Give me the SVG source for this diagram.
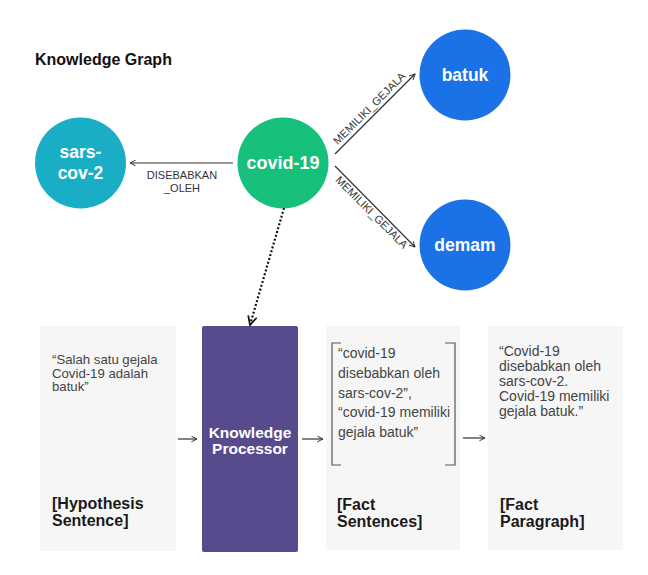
<svg xmlns="http://www.w3.org/2000/svg" width="648" height="575" viewBox="0 0 648 575">
<defs>
<style>
text{font-family:"Liberation Sans",Arial,sans-serif}
.node text{fill:#ffffff;font-weight:bold;font-size:17.5px;text-anchor:middle}
.elabel{fill:#333333;font-size:11px;text-anchor:middle}
.conn line,.conn path{stroke:#333333;stroke-width:1.2;fill:none}
.box{fill:#f6f6f6}
.body{fill:#444444;font-size:14px}
.tight{font-size:13.2px}
.cap{fill:#1a1a1a;font-size:16px;font-weight:bold}
.title{fill:#111111;font-size:16px;font-weight:bold}
</style>
<marker id="arr" viewBox="0 0 10 10" refX="9" refY="5" markerWidth="7" markerHeight="7" orient="auto" markerUnits="userSpaceOnUse">
<path d="M1,1 L9,5 L1,9" fill="none" stroke="#333333" stroke-width="1.4"/>
</marker>
<marker id="arrd" viewBox="0 0 10 10" refX="9" refY="5" markerWidth="11" markerHeight="11" orient="auto" markerUnits="userSpaceOnUse">
<path d="M1,1 L9,5 L1,9" fill="none" stroke="#111111" stroke-width="1.6"/>
</marker>
</defs>
<rect width="648" height="575" fill="#ffffff"/>
<text class="title" x="35" y="65">Knowledge Graph</text>

<g id="node-sars" class="node">
<circle cx="80.5" cy="163" r="45.5" fill="#1aaec6"/>
<text x="80.5" y="158">sars-</text>
<text x="80.5" y="179">cov-2</text>
</g>
<g id="node-covid" class="node">
<circle cx="283" cy="163" r="45.5" fill="#16c07b"/>
<text x="283" y="169" style="font-size:18px">covid-19</text>
</g>
<g id="node-batuk" class="node">
<circle cx="465" cy="75" r="45.5" fill="#1a72e6"/>
<text x="465" y="81">batuk</text>
</g>
<g id="node-demam" class="node">
<circle cx="465" cy="245" r="45.5" fill="#1a72e6"/>
<text x="465" y="251">demam</text>
</g>

<g id="box-hypothesis">
<rect class="box" x="40" y="326" width="136" height="225"/>
<text class="body tight" x="52" y="364">“Salah satu gejala</text>
<text class="body tight" x="52" y="377.5">Covid-19 adalah</text>
<text class="body tight" x="52" y="391">batuk”</text>
<text class="cap" x="52" y="509">[Hypothesis</text>
<text class="cap" x="52" y="526">Sentence]</text>
</g>
<g id="box-processor">
<rect x="202" y="326" width="96" height="226" rx="2" fill="#574b8e"/>
<text x="250" y="438" fill="#ffffff" font-size="15.5" font-weight="bold" text-anchor="middle">Knowledge</text>
<text x="250" y="454" fill="#ffffff" font-size="15.5" font-weight="bold" text-anchor="middle">Processor</text>
</g>
<g id="box-facts">
<rect class="box" x="326" y="326" width="134" height="224"/>
<path d="M341,343 H332 V465 H341 M445,343 H455 V465 H445" fill="none" stroke="#555555" stroke-width="1.2"/>
<text class="body" x="338" y="358">“covid-19</text>
<text class="body" x="338" y="378">disebabkan oleh</text>
<text class="body" x="338" y="398">sars-cov-2”,</text>
<text class="body" x="338" y="417">“covid-19 memiliki</text>
<text class="body" x="338" y="437">gejala batuk”</text>
<text class="cap" x="337" y="510">[Fact</text>
<text class="cap" x="337" y="527">Sentences]</text>
</g>
<g id="box-paragraph">
<rect class="box" x="488" y="326" width="135" height="224"/>
<text class="body" x="499" y="356">“Covid-19</text>
<text class="body" x="499" y="371">disebabkan oleh</text>
<text class="body" x="499" y="386">sars-cov-2.</text>
<text class="body" x="499" y="401">Covid-19 memiliki</text>
<text class="body" x="499" y="416">gejala batuk.”</text>
<text class="cap" x="500" y="510">[Fact</text>
<text class="cap" x="500" y="527">Paragraph]</text>
</g>

<g id="connectors" class="conn">
<line x1="233" y1="163" x2="130" y2="163" marker-end="url(#arr)"/>
<line x1="335" y1="154" x2="415" y2="74" marker-end="url(#arr)"/>
<line x1="335" y1="166" x2="415" y2="247" marker-end="url(#arr)"/>
<line x1="284" y1="208" x2="250" y2="325" stroke-dasharray="2,2" marker-end="url(#arrd)" style="stroke:#111111;stroke-width:2.2"/>
<line x1="178" y1="439" x2="197" y2="439" marker-end="url(#arr)"/>
<line x1="302" y1="439" x2="323" y2="439" marker-end="url(#arr)"/>
<line x1="463" y1="438" x2="485" y2="438" marker-end="url(#arr)"/>
<text class="elabel" x="182" y="179">DISEBABKAN</text>
<text class="elabel" x="182" y="192">_OLEH</text>
<text class="elabel" transform="translate(372,111) rotate(-45)">MEMILIKI_GEJALA</text>
<text class="elabel" transform="translate(369,215) rotate(45)">MEMILIKI_GEJALA</text>
</g>
</svg>
